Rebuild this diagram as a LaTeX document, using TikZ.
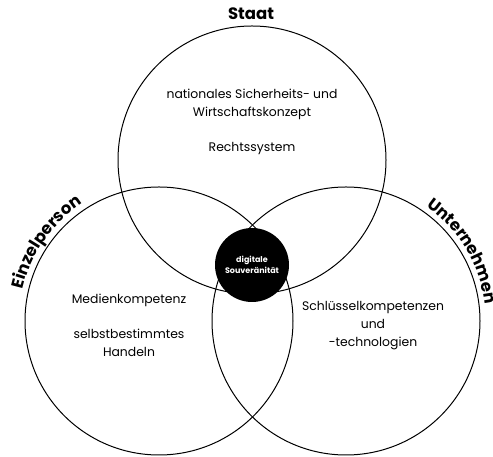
\documentclass[tikz,border=0pt]{standalone}
\usepackage{fontspec}
\setmainfont{Poppins}
\usetikzlibrary{decorations.text}

\newcommand\labelfont{\fontsize{16.5}{20}\selectfont\bfseries}

\begin{document}
\begin{tikzpicture}[x=1pt, y=1pt,
  ring/.style={draw=black, line width=1pt},
  field/.style={align=center, font=\fontsize{12.4}{18}\selectfont},
  title/.style={font=\labelfont, anchor=base}]
  \useasboundingbox (0,0) rectangle (493,457);

  \coordinate (S) at (252,297); % Staat
  \coordinate (E) at (159,136); % Einzelperson
  \coordinate (U) at (346,136); % Unternehmen

  \draw[ring] (S) circle[radius=134];
  \draw[ring] (E) circle[radius=134];
  \draw[ring] (U) circle[radius=134];

  % Schnittmenge
  \node[circle, fill=black, minimum size=74pt, inner sep=0pt, align=center,
        text=white, font=\fontsize{8}{10.5}\selectfont\bfseries] (core) at (252,192)
        {digitale\\Souveränität};

  % Beschriftungen
  \node[title] (staat) at (251,437) {Staat};
  \path[decorate, decoration={text along path, text align=center,
        text={|\labelfont|Einzelperson}}]
        (E) ++(180:140) arc[start angle=180, end angle=110, radius=140];
  \path[decorate, decoration={text along path, text align=center,
        text={|\labelfont|Unternehmen}}]
        (U) ++(66:140) arc[start angle=66, end angle=-4, radius=140];

  \node[field] (konzept) at (252,335.5)
        {nationales Sicherheits- und\\Wirtschaftskonzept\\[17pt]Rechtssystem};
  \node[field] (medien) at (129,131.5)
        {Medienkompetenz\\[17pt]selbstbestimmtes\\Handeln};
  \node[field] (schluessel) at (373,131.5)
        {Schlüsselkompetenzen\\und\\-technologien};
\end{tikzpicture}
\end{document}
